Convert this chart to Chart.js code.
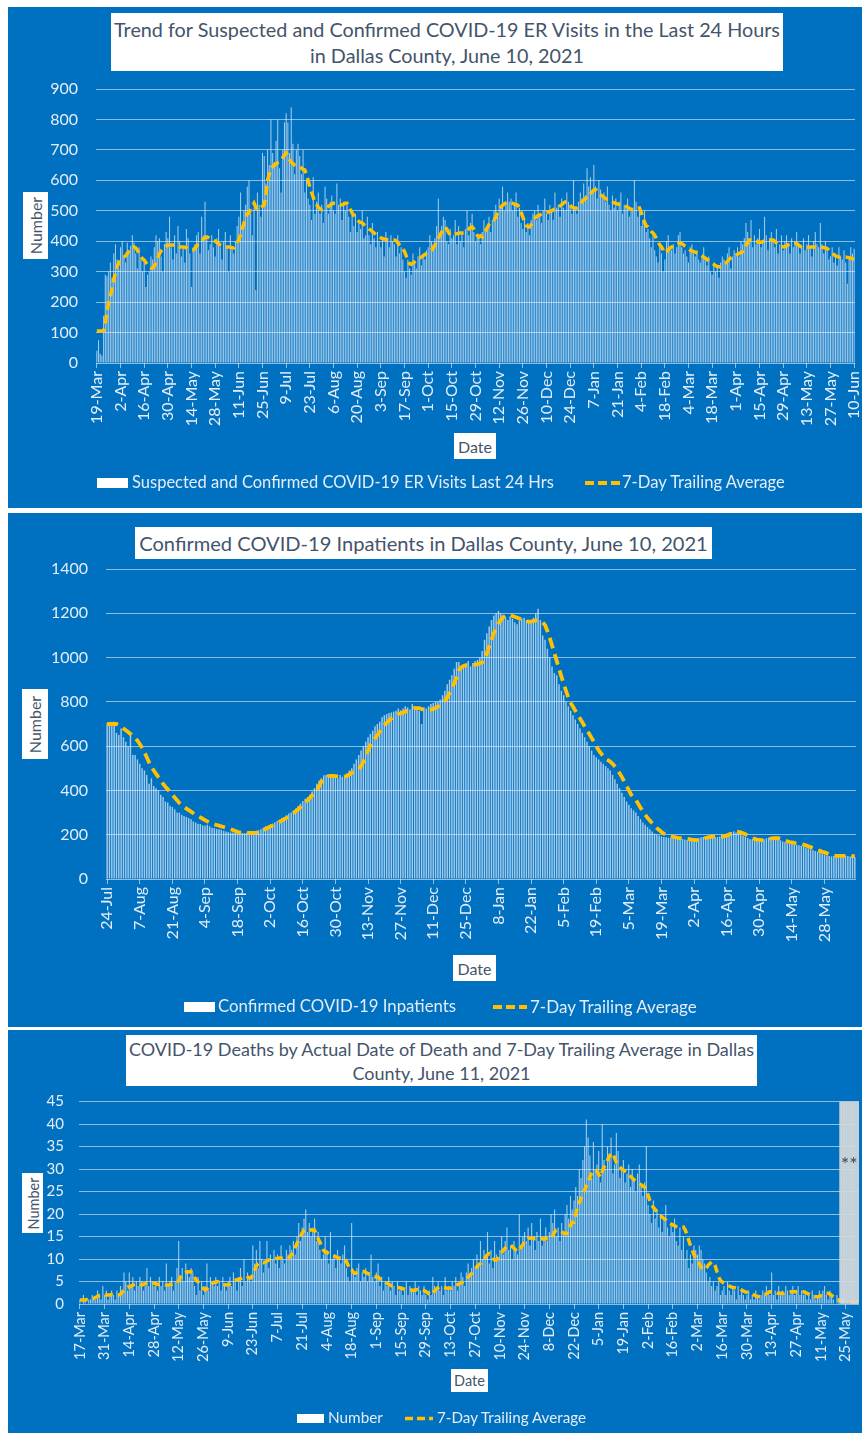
<!DOCTYPE html>
<html><head><meta charset="utf-8">
<script src="https://cdn.jsdelivr.net/npm/chart.js@4.4.1/dist/chart.umd.min.js"></script>
<style>
body{margin:0;background:#fff;width:862px;height:1433px;position:relative;overflow:hidden;font-family:Lato,'Noto Sans',sans-serif;}
.panel{position:absolute;left:8px;width:854px;background:#0070C0;}
.panel canvas{position:absolute;left:0;top:0;}
.box{position:absolute;background:#fff;color:#44546A;text-align:center;white-space:nowrap;display:flex;flex-direction:column;justify-content:center;align-items:center;z-index:2;}
.vbox span{display:block;transform:rotate(-90deg);white-space:nowrap;}
.lg{position:absolute;color:#e4edf7;white-space:nowrap;z-index:2;line-height:1;}
.sw{position:absolute;background:#fff;z-index:2;}
svg.dash{position:absolute;z-index:2;overflow:visible;}
</style></head>
<body>
<div class="panel" style="top:7px;height:501px"><canvas id="c1" width="854" height="501"></canvas></div>
<div class="panel" style="top:513px;height:514px"><canvas id="c2" width="854" height="514"></canvas></div>
<div class="panel" style="top:1030px;height:403px"><canvas id="c3" width="854" height="403"></canvas></div>

<div class="box" style="left:111px;top:13px;width:672px;height:58px;font-size:19.8px;line-height:26px">
<div>Trend for Suspected and Confirmed COVID-19 ER Visits in the Last 24 Hours</div><div>in Dallas County, June 10, 2021</div></div>
<div class="box vbox" style="left:23px;top:192px;width:25px;height:67px;font-size:16px"><span>Number</span></div>
<div class="box" style="left:454px;top:433px;width:42px;height:26px;font-size:16px">Date</div>
<div class="sw" style="left:97px;top:478px;width:31px;height:10px"></div>
<div class="lg" style="left:132px;top:474px;font-size:16.5px">Suspected and Confirmed COVID-19 ER Visits Last 24 Hrs</div>
<svg class="dash" style="left:585px;top:478px" width="36" height="10"><line x1="0" y1="5" x2="35" y2="5" stroke="#FFC000" stroke-width="4" stroke-dasharray="9 4"/></svg>
<div class="lg" style="left:622px;top:474px;font-size:16.6px">7-Day Trailing Average</div>

<div class="box" style="left:135px;top:527px;width:577px;height:32px;font-size:20.1px">Confirmed COVID-19 Inpatients in Dallas County, June 10, 2021</div>
<div class="box vbox" style="left:22px;top:689px;width:26px;height:70px;font-size:16px"><span>Number</span></div>
<div class="box" style="left:453px;top:955px;width:43px;height:26px;font-size:16px">Date</div>
<div class="sw" style="left:184px;top:1002px;width:31px;height:10px"></div>
<div class="lg" style="left:218px;top:998px;font-size:16.8px">Confirmed COVID-19 Inpatients</div>
<svg class="dash" style="left:493px;top:1002px" width="36" height="10"><line x1="0" y1="5" x2="34" y2="5" stroke="#FFC000" stroke-width="4" stroke-dasharray="9 4"/></svg>
<div class="lg" style="left:530px;top:998px;font-size:17px">7-Day Trailing Average</div>

<div class="box" style="left:126px;top:1035px;width:631px;height:51px;font-size:18px;line-height:24px">
<div>COVID-19 Deaths by Actual Date of Death and 7-Day Trailing Average in Dallas</div><div>County, June 11, 2021</div></div>
<div class="box vbox" style="left:22px;top:1173px;width:21px;height:60px;font-size:14.5px"><span>Number</span></div>
<div class="box" style="left:451px;top:1369px;width:37px;height:23px;font-size:14.5px">Date</div>
<div class="sw" style="left:297px;top:1414px;width:27px;height:9px"></div>
<div class="lg" style="left:328px;top:1410px;font-size:15.3px">Number</div>
<svg class="dash" style="left:405px;top:1414px" width="30" height="10"><line x1="0" y1="4.5" x2="28" y2="4.5" stroke="#FFC000" stroke-width="3.5" stroke-dasharray="8 4"/></svg>
<div class="lg" style="left:437px;top:1410px;font-size:15.2px">7-Day Trailing Average</div>

<script>
// ---------- Chart 1: ER visits, daily from 2020-03-19 ----------
const erStart = '2020-03-19';
const erTickLabels = ['19-Mar','2-Apr','16-Apr','30-Apr','14-May','28-May','11-Jun','25-Jun','9-Jul','23-Jul','6-Aug','20-Aug','3-Sep','17-Sep','1-Oct','15-Oct','29-Oct','12-Nov','26-Nov','10-Dec','24-Dec','7-Jan','21-Jan','4-Feb','18-Feb','4-Mar','18-Mar','1-Apr','15-Apr','29-Apr','13-May','27-May','10-Jun'];
const erVisits = [
40,75,30,25,155,290,285, 300,330,280,360,390,340,310, 380,400,350,330,395,370,385, 420,395,360,310,380,340,300,
330,250,290,300,350,340,380, 420,400,410,350,300,390,430, 410,480,380,340,420,360,450, 400,350,380,330,440,410,360,
250,380,390,420,430,360,480, 420,530,410,370,390,420,380, 350,410,440,380,340,400,430, 380,300,420,380,360,400,450,
480,560,450,500,520,580,600, 490,420,510,240,560,520,480, 690,680,590,700,650,800,690, 660,730,800,640,560,700,790,
820,790,690,840,720,620,700, 720,680,620,700,560,600,540, 520,470,610,490,530,560,490, 520,460,580,540,490,530,550,
500,490,590,520,540,470,530, 500,520,480,430,500,450,490, 430,470,440,500,410,420,480, 420,390,460,410,380,430,400,
380,410,350,430,400,380,420, 400,390,350,420,360,380,340, 300,280,340,310,290,360,330, 310,350,380,320,360,340,370,
380,420,400,390,410,450,540, 420,450,480,470,400,390,440, 410,420,470,390,450,400,430, 380,440,500,420,460,490,430,
400,420,410,390,430,470,440, 450,480,430,470,500,520,480, 540,510,580,500,520,560,530, 540,500,520,560,480,510,460,
440,470,430,460,420,470,490, 500,470,520,480,460,500,540, 490,470,520,500,470,560,510, 520,480,540,510,500,560,530,
520,490,600,510,490,530,560, 540,590,550,640,580,610,560, 650,580,540,600,570,540,560, 530,580,520,500,550,510,540,
500,530,560,490,520,510,540, 480,500,510,600,530,480,500, 450,470,500,430,440,410,380, 420,370,350,330,380,360,300,
340,400,420,380,370,390,360, 380,420,430,380,360,370,350, 330,380,390,360,350,370,340, 330,350,380,340,320,350,300,
290,330,300,320,280,330,350, 340,330,360,380,310,350,370, 360,380,350,400,390,410,460, 430,400,470,380,420,390,410,
440,380,400,480,420,370,410, 430,400,380,440,360,390,420, 370,400,420,390,360,410,380, 400,430,390,360,380,410,370,
390,420,380,350,400,430,390, 380,460,390,360,400,370,340, 350,380,330,360,320,380,350, 340,370,330,260,350,380,360,
375];
const erAvg = [
105,105,105,105,106,130,170, 200,218,245,275,296,315,330, 340,345,348,352,360,368,375, 381,381,378,370,360,350,342,
338,330,322,316,312,312,318, 330,345,358,368,375,380,384, 387,388,388,388,388,386,384, 382,381,381,380,378,375,372,
371,371,376,384,392,397,402, 408,412,414,412,408,405,404, 400,396,392,388,386,384,382, 381,381,380,379,378,385,395,
404,420,440,460,478,490,493, 505,515,525,512,503,505,510, 515,519,550,601,620,635,645, 650,655,658,660,668,675,683,
690,680,668,660,655,650,648, 645,645,640,636,634,620,600, 578,560,545,529,520,512,506, 503,505,508,512,515,518,522,
525,525,523,520,519,520,522, 525,525,515,504,493,485,478, 470,465,462,460,455,450,445, 440,437,432,427,422,418,414,
411,409,407,406,405,404,404, 404,404,402,395,388,381,375, 366,352,335,326,324,328,333, 338,342,345,348,352,356,360,
364,368,371,378,388,398,410, 420,430,440,447,440,430,420, 420,421,423,425,426,427,427, 428,430,435,440,445,447,440,
430,420,414,418,414,425,435, 445,455,462,468,470,480,492, 502,512,518,522,526,529,528, 526,524,522,520,519,510,495,
480,465,452,447,447,455,465, 475,480,484,486,488,490,492, 494,496,498,500,503,506,509, 512,516,520,525,529,529,524,
518,512,509,509,509,515,522, 530,536,540,545,545,555,562, 568,570,565,558,552,548,544, 540,536,532,529,528,526,524,
522,521,520,519,518,515,512, 508,505,503,503,505,508,509, 495,478,462,450,447,440,432, 427,420,410,398,388,381,372,
361,366,372,377,381,384,388, 391,393,394,392,388,384,380, 376,371,368,366,364,362,361, 356,352,348,344,340,336,332,
328,324,320,317,316,316,318, 322,328,334,340,345,348,351, 354,357,360,363,365,372,385, 396,404,404,402,400,399,398,
397,397,399,401,402,403,404, 404,404,400,395,390,385,383, 381,382,385,388,391,394,394, 394,392,388,384,380,378,378,
379,380,381,381,381,381,381, 381,381,380,379,378,376,372, 366,361,356,352,350,348,347, 347,348,348,347,346,344,342,
340];

// ---------- Chart 2: Inpatients, daily from 2020-07-24 ----------
const ipStart = '2020-07-24';
const ipTickLabels = ['24-Jul','7-Aug','21-Aug','4-Sep','18-Sep','2-Oct','16-Oct','30-Oct','13-Nov','27-Nov','11-Dec','25-Dec','8-Jan','22-Jan','5-Feb','19-Feb','5-Mar','19-Mar','2-Apr','16-Apr','30-Apr','14-May','28-May'];
const ipCount = [
705,700,690,710,660,650,680, 640,620,600,650,560,560,540, 520,500,490,470,430,455,420, 410,400,380,370,350,345,330,
325,315,300,300,290,285,280, 275,270,260,255,250,248,242, 240,245,238,232,230,226,225, 222,218,215,212,210,210,208,
205,206,208,207,210,212,206, 212,216,220,225,232,238,240, 246,250,256,262,268,275,280, 288,296,300,310,318,330,340,
352,362,370,380,395,410,430, 445,455,468,470,466,462,468, 460,455,470,462,470,478,490, 500,520,540,560,580,600,620,
640,655,670,690,700,710,730, 740,745,750,752,756,760,770, 762,770,780,775,765,790,780, 768,760,700,775,770,780,790,
795,800,800,810,830,850,880, 900,920,950,980,980,960,965, 970,985,960,975,985,990,1000, 1030,1080,1110,1140,1170,1190,1200,
1210,1200,1190,1180,1170,1185,1175, 1160,1150,1165,1175,1180,1170,1160, 1165,1180,1200,1220,1170,1100,1080, 1040,1000,960,930,920,880,850,
830,800,780,760,740,720,700, 680,660,640,620,600,580,560, 550,540,530,520,510,500,490, 470,450,430,410,390,370,350,
335,320,310,300,285,270,255, 245,235,225,215,205,200,196, 192,190,188,186,185,184,185, 183,182,180,178,176,175,176,
178,180,184,188,190,192,194, 192,190,188,190,192,196,200, 205,210,212,215,210,205,200, 195,190,185,180,178,176,175,
176,178,180,184,186,186,184, 182,178,175,170,166,162,160, 158,156,154,152,150,146,142, 138,134,130,126,122,118,114,
110,106,104,102,104,106,104, 102,104,106,104,102,100,98];
const ipAvg = [
700,700,700,700,700,695,688, 680,672,664,655,646,637,625, 610,592,572,550,527,506,490, 475,460,445,430,417,405,393,
380,368,356,343,333,325,318, 311,304,297,290,284,278,272, 266,260,255,251,247,244,241, 238,235,232,229,225,221,217,
213,210,209,209,208,208,208, 208,209,211,215,220,226,232, 236,241,246,252,258,264,270, 276,283,290,298,306,315,325,
334,344,355,366,378,390,402, 420,440,456,462,465,466,466, 465,463,461,460,462,466,472, 480,484,488,495,510,530,555,
580,605,620,635,650,665,680, 695,705,715,725,733,740,745, 748,752,756,760,764,768,772, 772,772,768,764,762,763,765,
768,772,778,785,795,805,820, 840,860,885,910,943,955,962, 966,966,965,966,968,970,974, 978,990,1020,1050,1080,1110,1135,
1154,1170,1182,1190,1194,1192,1188, 1184,1180,1176,1172,1168,1164,1162, 1162,1165,1168,1169,1166,1158,1147, 1120,1090,1055,1020,985,950,915,
880,850,820,795,778,760,742, 725,708,690,672,655,637,620, 600,582,568,555,543,537,530, 520,508,495,478,460,440,420,
400,380,365,357,340,322,306, 290,276,264,252,240,230,221, 212,205,200,196,193,190,188, 186,185,185,184,182,180,178,
177,176,177,179,182,185,188, 190,191,191,190,190,191,193, 196,200,205,210,214,213,211, 207,202,196,190,185,181,178,
177,176,176,177,180,183,185, 185,184,182,178,174,170,167, 165,163,162,160,158,155,152, 148,144,140,136,131,127,123,
120,116,112,108,106,104,104, 104,104,104,104,104,103,103];

// ---------- Chart 3: Deaths, daily from 2020-03-17 ----------
const dStart = '2020-03-17';
const dTickLabels = ['17-Mar','31-Mar','14-Apr','28-Apr','12-May','26-May','9-Jun','23-Jun','7-Jul','21-Jul','4-Aug','18-Aug','1-Sep','15-Sep','29-Sep','13-Oct','27-Oct','10-Nov','24-Nov','8-Dec','22-Dec','5-Jan','19-Jan','2-Feb','16-Feb','2-Mar','16-Mar','30-Mar','13-Apr','27-Apr','11-May','25-May'];
const deaths = [
1,0,2,1,0,1,1, 2,1,1,3,2,1,4, 2,3,1,2,3,2,1, 3,2,4,3,7,5,3, 7,4,6,3,5,4,6, 5,3,4,8,4,6,5, 4,5,3,6,4,5,3, 9,4,5,6,3,5,8,
14,6,8,5,9,7,6, 8,7,4,2,6,3,5, 2,4,9,3,6,5,4, 6,4,5,3,6,4,3, 5,6,4,7,5,3,6, 8,4,10,5,7,6,5, 13,9,12,8,14,10,7, 9,14,8,11,10,12,9,
11,8,13,10,9,12,11, 13,12,14,11,15,18,14, 17,19,21,16,18,15,17, 19,14,16,12,10,11,15, 12,9,16,10,11,8,12, 10,9,11,13,8,6,5,
18,7,6,8,9,5,7, 6,8,5,7,11,6,5, 7,9,4,6,3,5,4, 6,3,5,4,2,5,3, 4,2,3,5,2,4,3, 3,5,2,4,3,2,4, 2,1,3,2,6,4,3, 5,3,4,2,6,3,4,
3,5,4,6,3,5,7, 6,4,7,9,6,8,10, 8,11,9,14,10,12,11, 16,9,12,8,14,11,10, 12,15,11,14,17,12,13, 10,14,12,11,20,13,15,
16,14,17,13,18,15,12, 16,14,19,13,15,17,14, 16,20,18,21,15,17,14, 18,16,20,22,19,24,21, 23,26,24,30,28,32,35,
41,37,33,28,36,30,31, 34,27,40,32,30,35,33, 37,29,31,38,34,28,30, 32,27,29,31,26,30,28, 25,29,31,26,24,27,35,
22,20,18,23,19,21,17, 20,16,19,22,17,15,18, 16,19,14,13,17,12,15, 10,12,8,11,9,13,12, 11,13,12,10,9,7,5,
6,4,5,3,4,5,2, 3,4,2,5,3,2,4, 3,1,4,2,3,2,1, 2,3,1,2,1,3,2, 1,2,3,2,4,3,2, 7,2,3,1,4,2,3, 2,4,3,2,3,4,2,
3,4,2,3,2,3,1, 2,1,3,2,1,2,3, 2,3,4,2,1,3,2, 1,0,2,1,0,1,1, 0,1,0,1,0,0,1, 0];
const deathsAvg = [
0.9,0.9,0.9,0.9,1.0,1.0,1.1, 1.2,1.3,1.5,1.7,1.9,2.0,2.1, 2.0,2.0,2.0,2.0,2.1,2.0,2.0, 2.0,2.0,2.2,2.6,3.0,3.4,3.8,
3.8,4.0,4.2,4.4,4.5,4.4,4.3, 4.2,4.4,4.5,4.6,4.6,4.5,4.6, 4.6,4.5,4.4,4.3,4.3,4.4,4.3, 4.2,4.2,4.3,4.4,4.5,4.6,4.6,
5.2,6.0,6.6,6.8,7.0,7.2,7.1, 7.2,7.0,6.0,5.2,4.9,4.5,4.0, 3.5,3.1,3.3,3.7,4.1,4.5,4.8, 4.9,5.0,4.8,4.6,4.4,4.3,4.2,
4.2,4.5,4.9,5.2,5.3,5.4,5.5, 5.6,5.8,6.0,6.2,6.0,5.8,5.8, 6.5,7.5,8.4,9.0,9.2,9.3,9.2, 9.3,9.5,9.8,10.0,10.1,10.1,10.1,
10.1,10.2,10.2,10.1,10.0,10.1,10.1, 10.5,11.0,11.5,12.5,13.5,14.2,15.0, 15.8,16.4,16.6,16.6,16.4,16.5,16.4, 16.4,15.5,14.5,13.8,12.8,12.0,11.5,
11.5,11.2,11.0,10.9,10.7,10.5,10.3, 10.2,10.2,10.1,10.1,9.5,8.6,7.6, 7.6,7.0,6.8,7.0,7.2,7.2,7.2, 7.2,7.0,6.8,6.6,6.4,6.2,6.1,
6.0,6.0,5.6,5.3,5.0,4.8,4.6, 4.4,4.2,4.0,3.9,3.8,3.7,3.6, 3.5,3.4,3.3,3.2,3.1,3.1,3.1, 3.0,3.1,3.2,3.1,3.1,3.1,3.0,
2.8,2.5,2.2,2.0,2.4,2.9,3.3, 3.6,3.8,3.8,3.7,3.6,3.5,3.5, 3.5,3.7,3.9,4.1,4.3,4.5,4.7, 4.9,5.2,5.6,6.0,6.4,6.8,7.3,
7.8,8.3,8.7,9.0,9.5,10.0,10.5, 11.0,11.2,10.8,10.2,9.8,9.8,10.2, 10.8,11.4,12.0,12.4,12.8,13.0,13.1, 12.8,12.4,12.0,11.6,12.0,12.6,13.2,
13.8,14.2,14.6,14.6,14.7,14.6,14.5, 14.6,14.6,14.6,14.5,14.4,14.6,14.5, 14.6,14.6,15.2,16.0,16.4,16.4,16.2, 16.0,15.8,15.7,15.7,16.4,17.5,18.2,
18.2,20.0,21.5,22.5,23.5,24.5,25.3, 26.2,27.2,28.2,29.1,29.5,29.8,29.6, 28.8,28.2,29.5,30.4,31.2,32.0,32.8, 33.5,33.5,32.5,31.5,30.9,30.5,30.0,
29.8,29.5,29.2,28.8,28.4,28.0,27.6, 27.4,27.0,26.8,26.5,26.2,26.0,25.2, 24.2,23.0,22.0,21.5,21.0,20.5,20.0, 19.7,19.3,19.0,18.7,18.2,18.0,17.8,
17.6,17.4,17.2,17.1,17.1,17.1,17.1, 16.5,15.5,14.2,13.0,12.0,11.0,10.2, 9.8,9.0,8.2,7.8,7.6,8.0,8.6, 9.0,9.3,9.3,8.5,7.2,6.0,5.2,
4.9,4.6,4.4,4.2,4.0,3.8,3.7, 3.6,3.5,3.5,3.3,3.1,2.9,2.7, 2.6,2.5,2.4,2.2,2.0,1.8,1.7, 1.6,1.6,1.8,2.0,2.3,2.5,2.7,
2.7,2.6,2.5,2.4,2.4,2.4,2.4, 2.4,2.5,2.6,2.7,2.7,2.7,2.7, 2.7,2.8,2.8,2.7,2.7,2.6,2.4, 2.2,2.0,1.8,1.7,1.6,1.6,1.7,
1.9,2.1,2.3,2.4,2.4,2.2,1.9, 1.6,1.3,1.0,0.9,0.8,0.8,0.7, 0.6,0.6,0.5,0.5,0.4,0.4,0.3, 0.3];
// incomplete-data period (shaded, marked **)
const pendingDates = ['2021-05-22','2021-05-23','2021-05-24','2021-05-25','2021-05-26','2021-05-27','2021-05-28','2021-05-29','2021-05-30','2021-05-31','2021-06-01'];
const pendingLevel = 45;

// ---------- helpers ----------
function dayLabels(start, n){
  const [y,m,d] = start.split('-').map(Number);
  const out = [];
  for (let i=0;i<n;i++) out.push(new Date(Date.UTC(y,m-1,d+i)).toISOString().slice(0,10));
  return out;
}
const TXT = '#e4edf7', GRID = 'rgba(255,255,255,0.55)', GOLD = '#FFC000';
const BAR = 'rgba(225,238,250,0.72)';
Chart.defaults.font.family = 'Lato';

function makeOpts(cfg){
  return {
    responsive:false, animation:false, devicePixelRatio:1,
    layout:{padding:{top:cfg.top, right:cfg.right, left:0, bottom:0}},
    plugins:{legend:{display:false}, title:{display:false}, tooltip:{enabled:false}},
    scales:{
      x:{ type:'category', offset:true,
          grid:{offset:false, drawOnChartArea:false, drawTicks:true, tickLength:5, color:GRID},
          border:{display:false},
          ticks:{autoSkip:false, minRotation:90, maxRotation:90, padding:3, color:TXT,
                 font:{size:cfg.xFont}, callback:(v)=> cfg.tickLabels[Math.round(v/14)] },
          afterBuildTicks:(s)=>{ s.ticks = s.ticks.filter(t => t.value % 14 === 0); },
          afterFit:(s)=>{ s.height = cfg.xh; s.paddingLeft = 0; s.paddingRight = 0; } },
      y:{ min:0, max:cfg.ymax,
          ticks:{stepSize:cfg.step, color:TXT, padding:cfg.ypad, font:{size:cfg.yFont}, callback:(v)=> String(v)},
          grid:{color:GRID, drawTicks:false, lineWidth:1},
          border:{display:false},
          afterFit:(s)=>{ s.width = cfg.yw; s.paddingTop = 0; s.paddingBottom = 0; } }
    }
  };
}
function lineDS(data, w, dash){ return {type:'line', data, borderColor:GOLD, borderWidth:w, borderDash:dash, pointRadius:0, tension:0, fill:false, order:1}; }
function barDS(data){ return {type:'bar', data, backgroundColor:BAR, borderWidth:0, barPercentage:0.62, categoryPercentage:1, grouped:false, order:2}; }

new Chart(document.getElementById('c1'), {
  data:{ labels: dayLabels(erStart, erVisits.length),
    datasets:[ lineDS(erAvg, 3.5, [9,5]), barDS(erVisits) ] },
  options: makeOpts({top:82, right:7, xh:145, yw:88, ypad:18, ymax:900, step:100, xFont:16, yFont:16, tickLabels:erTickLabels})
});

new Chart(document.getElementById('c2'), {
  data:{ labels: dayLabels(ipStart, ipCount.length),
    datasets:[ lineDS(ipAvg, 3.8, [11,6]), barDS(ipCount) ] },
  options: makeOpts({top:56, right:6, xh:148, yw:98, ypad:18, ymax:1400, step:200, xFont:16, yFont:16, tickLabels:ipTickLabels})
});

const starPlugin = { id:'stars', afterDatasetsDraw(chart){
  const xs = chart.scales.x, ys = chart.scales.y, labels = xs.getLabels();
  const a = xs.getPixelForValue(labels.indexOf(pendingDates[0]));
  const b = xs.getPixelForValue(labels.indexOf(pendingDates[pendingDates.length-1]));
  const ctx = chart.ctx; ctx.save();
  ctx.fillStyle = '#4a4a4a'; ctx.font = '20px Lato'; ctx.textAlign='center'; ctx.textBaseline='middle';
  ctx.fillText('**', (a+b)/2, ys.getPixelForValue(31)); ctx.restore();
}};
new Chart(document.getElementById('c3'), {
  data:{ labels: dayLabels(dStart, deaths.length),
    datasets:[
      {type:'bar', data: pendingDates.map(d=>({x:d, y:pendingLevel})), backgroundColor:'rgba(212,216,220,0.9)', borderWidth:0, barPercentage:1, categoryPercentage:1, grouped:false, order:0},
      lineDS(deathsAvg, 3.5, [8,5]), barDS(deaths) ] },
  options: makeOpts({top:71.6, right:3, xh:129, yw:71, ypad:15, ymax:45, step:5, xFont:14.5, yFont:15, tickLabels:dTickLabels}),
  plugins:[starPlugin]
});
</script>
</body></html>
